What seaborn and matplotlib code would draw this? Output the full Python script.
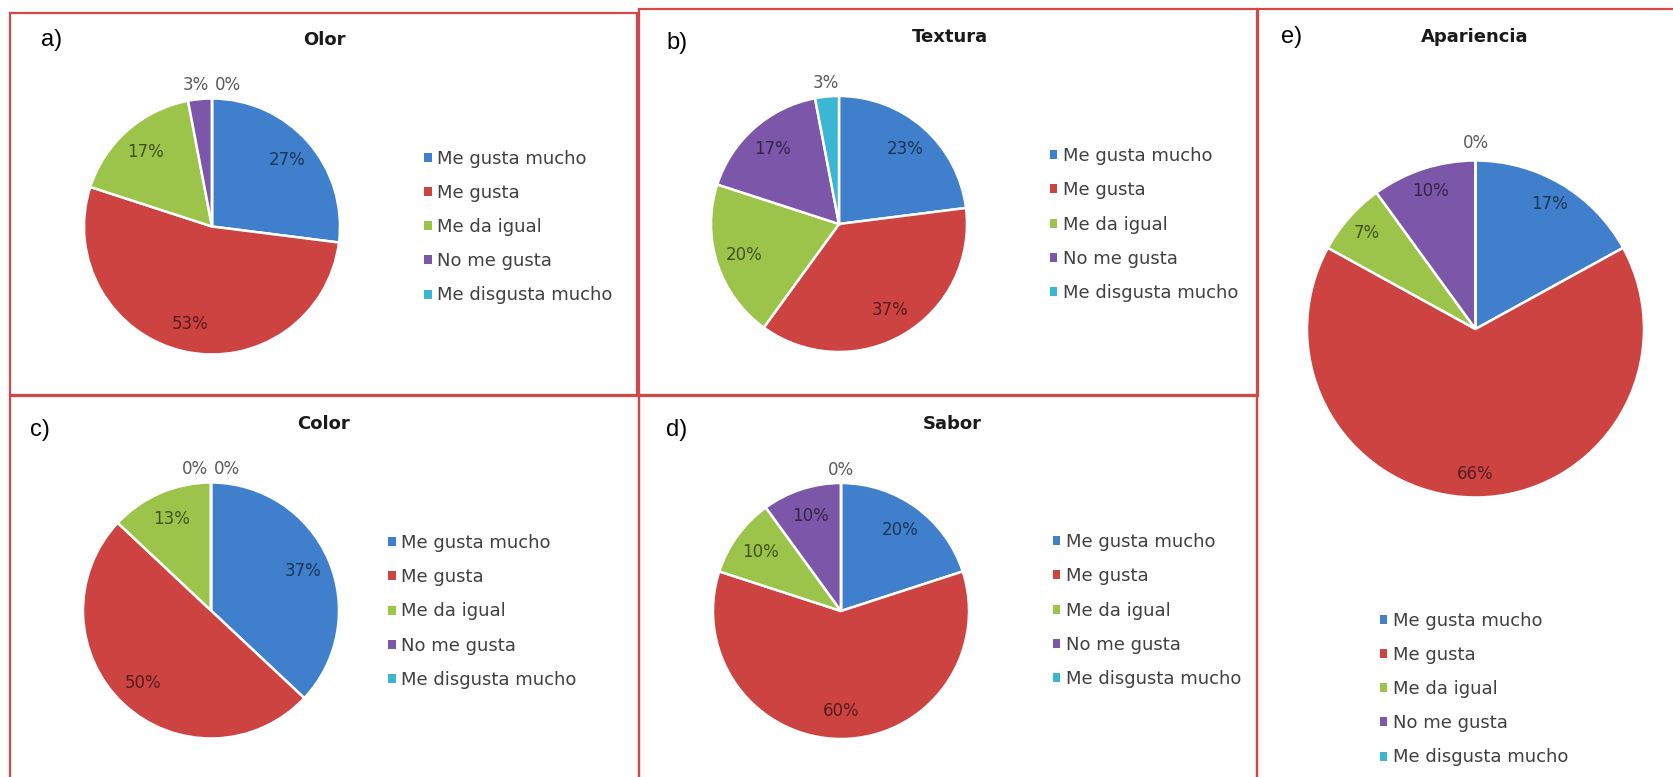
import numpy as np
import matplotlib
matplotlib.use("Agg")
import matplotlib.pyplot as plt
from matplotlib.patches import Patch, Rectangle
from matplotlib.colors import to_rgb
import seaborn as sns

# Survey answers (percent of respondents) for each sensory attribute
categories = ["Me gusta mucho", "Me gusta", "Me da igual", "No me gusta", "Me disgusta mucho"]
olor = [27, 53, 17, 3, 0]
textura = [23, 37, 20, 17, 3]
color = [37, 50, 13, 0, 0]
sabor = [20, 60, 10, 10, 0]
apariencia = [17, 66, 7, 10, 0]

titles = ["Olor", "Textura", "Color", "Sabor", "Apariencia"]
tags = ["a)", "b)", "c)", "d)", "e)"]

sns.set_theme(style="white")
plt.rcParams["font.family"] = ["DejaVu Sans"]

palette = sns.color_palette(["#3F7FCB", "#CD4342", "#9DC44A", "#7C56A8", "#3BB6D3"])

W, H = 1674, 777
fig = plt.figure(figsize=(W / 100, H / 100), dpi=100)
fig.patch.set_facecolor("white")


def fx(px):
    return px / W


def fy(py):
    return 1 - py / H


# Panel geometry in pixels: frame box, pie centre/radius, title, tag, legend anchor
layout = [
    dict(box=(10, 13, 637, 395), center=(212, 226.5), r=128, title=(324, 40),
         tag=(52, 40), leg=(424.5, 227), pct=0.78),
    dict(box=(639, 8.5, 1258, 396), center=(839, 224), r=128, title=(950, 37),
         tag=(677, 43), leg=(1050, 224.5), pct=0.78),
    dict(box=(10, 396, 639, 800), center=(211, 610.5), r=128, title=(324, 424),
         tag=(40, 430), leg=(388.5, 611.5), pct=0.78),
    dict(box=(639, 395, 1257, 800), center=(841, 611), r=128, title=(952, 424),
         tag=(677, 430), leg=(1053, 610.5), pct=0.78),
    dict(box=(1257, 9, 1690, 800), center=(1475.5, 329), r=168.5, title=(1475, 37),
         tag=(1292, 37), leg=(1380, 689), pct=0.86),
]
series = [olor, textura, color, sabor, apariencia]

frame_color = "#D04848"
for lay in layout:
    x0, y0, x1, y1 = lay["box"]
    fig.add_artist(Rectangle((fx(x0), fy(y1)), fx(x1) - fx(x0), fy(y0) - fy(y1),
                             transform=fig.transFigure, fill=False,
                             edgecolor=frame_color, linewidth=1.6, zorder=0))


def darker(c, f=0.42):
    r, g, b = to_rgb(c)
    return (r * f, g * f, b * f)


handles = [Patch(facecolor=c, edgecolor="none") for c in palette]

for values, title, tag, lay in zip(series, titles, tags, layout):
    cx, cy = lay["center"]
    R = lay["r"]
    m = 1.15
    ax = fig.add_axes([fx(cx - m * R), fy(cy + m * R), 2 * m * R / W, 2 * m * R / H])
    wedges, _ = ax.pie(values, colors=palette, startangle=90, counterclock=False,
                       radius=1, wedgeprops=dict(edgecolor="white", linewidth=1.8))
    ax.set_xlim(-m, m)
    ax.set_ylim(-m, m)
    ax.set_aspect("equal")
    ax.axis("off")

    # value labels: inside the slice for larger shares, above the pie otherwise
    pos = []
    for w, v in zip(wedges, values):
        mid = np.deg2rad((w.theta1 + w.theta2) / 2)
        if v >= 5:
            pos.append([lay["pct"] * np.cos(mid), lay["pct"] * np.sin(mid), True])
        else:
            pos.append([1.105 * np.cos(mid), 1.105 * np.sin(mid), False])
    outside = [i for i, p in enumerate(pos) if not p[2]]
    if len(outside) > 1:
        n = len(outside)
        order = sorted(outside, key=lambda i: round(pos[i][0], 6))
        for j, i in enumerate(order):
            pos[i][0] = (j - (n - 1) / 2) * 0.25
            pos[i][1] = 1.105
    for (x, y, inside), v, c in zip(pos, values, palette):
        ax.text(x, y, f"{v}%", ha="center", va="center", fontsize=12,
                color=darker(c) if inside else "#595959")

    fig.text(fx(lay["title"][0]), fy(lay["title"][1]), title, ha="center", va="center",
             fontsize=13, fontweight="bold", color="#1A1A1A")
    fig.text(fx(lay["tag"][0]), fy(lay["tag"][1]), tag, ha="center", va="center",
             fontsize=17, color="black", family=["Liberation Sans", "DejaVu Sans"])

    lx, ly = lay["leg"]
    ax.legend(handles, categories, loc="center left",
              bbox_to_anchor=(fx(lx), fy(ly)), bbox_transform=fig.transFigure,
              frameon=False, borderpad=0, borderaxespad=0, fontsize=13,
              handlelength=0.39, handleheight=0.39, handletextpad=0.32,
              labelspacing=0.9, labelcolor="#404040")

fig.savefig("out.png", dpi=100, facecolor="white")
